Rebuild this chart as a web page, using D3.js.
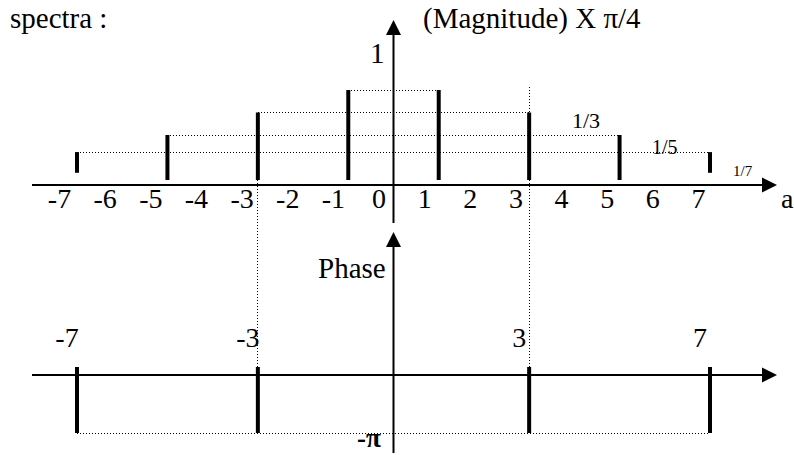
<!DOCTYPE html>
<html>
<head>
<meta charset="utf-8">
<script src="https://cdn.jsdelivr.net/npm/d3@7"></script>
<style>
    body { margin: 0; background: #fff; }
    svg { display: block; font-family: "Liberation Serif", "Times New Roman", serif; }
    .c-Spectra-dotted { stroke: #000; stroke-width: 1; stroke-dasharray: 1,2; fill: none; shape-rendering: crispEdges; }
    .c-Spectra-axis { stroke: #000; stroke-width: 2; }
    .c-Spectra-spike { stroke: #000; stroke-width: 4; }
</style>
</head>
<body>
<div id="chart"></div>
<script>
// harmonics and their drawn magnitude
const harmonics = [-7, -5, -3, -1, 1, 3, 5, 7]
const magnitudeTop = [0.31, 0.5, 0.75, 1, 1, 0.75, 0.5, 0.31]
const magnitudeBase = [0.08, 0, 0, 0, 0, 0, 0, 0.08]
const levelLabels = ['1/7', '1/5', '1/3', '1']

// phase spectrum
const phaseHarmonics = [-7, -3, 3, 7]
const phaseValues = [-Math.PI, -Math.PI, -Math.PI, -Math.PI]

const tickValues = [-7, -6, -5, -4, -3, -2, -1, 0, 1, 2, 3, 4, 5, 6, 7]

const width = 794
const height = 455
const fontSize = 29

const svg = d3.select('#chart').append('svg')
    .attr('width', width)
    .attr('height', height)

const x = d3.scaleLinear().domain([-7, 7]).range([77, 710])
const xLabel = d3.scaleLinear().domain([-7, 7]).range([59, 698])
const yMag = d3.scaleLinear().domain([0, 1]).range([180, 90])
const yPhase = d3.scaleLinear().domain([-Math.PI, 0]).range([433, 375])

const magAxisY = 185
const phaseAxisY = yPhase(0)
const axisX = x(0)

const mag = harmonics.map((h, i) => ({ h, top: magnitudeTop[i], base: magnitudeBase[i] }))
const phase = phaseHarmonics.map((h, i) => ({ h, value: phaseValues[i] }))

// axis line with a filled arrow head at (x2, y2)
function arrow(g, x1, y1, x2, y2) {
    const ang = Math.atan2(y2 - y1, x2 - x1)
    const len = 15, half = 7.5
    const bx = x2 - len * Math.cos(ang), by = y2 - len * Math.sin(ang)
    g.append('line').attr('class', 'c-Spectra-axis')
        .attr('x1', x1).attr('y1', y1).attr('x2', bx).attr('y2', by)
    g.append('path')
        .attr('d', `M${x2},${y2}L${bx - half * Math.sin(ang)},${by + half * Math.cos(ang)}L${bx + half * Math.sin(ang)},${by - half * Math.cos(ang)}Z`)
        .attr('fill', '#000')
}

// dotted guides
const guides = svg.append('g')
for (let i = 0; i < 4; i++) {
    const d = mag[i]
    guides.append('line').attr('class', 'c-Spectra-dotted')
        .attr('x1', x(d.h)).attr('x2', x(-d.h))
        .attr('y1', yMag(d.top)).attr('y2', yMag(d.top))
}
guides.append('line').attr('class', 'c-Spectra-dotted')
    .attr('x1', x(-7)).attr('x2', x(7))
    .attr('y1', yPhase(-Math.PI)).attr('y2', yPhase(-Math.PI))
guides.append('line').attr('class', 'c-Spectra-dotted')
    .attr('x1', x(-3)).attr('x2', x(-3))
    .attr('y1', yMag(0)).attr('y2', phaseAxisY - 8)
guides.append('line').attr('class', 'c-Spectra-dotted')
    .attr('x1', x(3)).attr('x2', x(3))
    .attr('y1', yMag(1.03)).attr('y2', phaseAxisY - 8)

// axes
const axes = svg.append('g')
arrow(axes, 32, magAxisY, 777, magAxisY)
arrow(axes, axisX, 223, axisX, 20)
arrow(axes, 32, phaseAxisY, 777, phaseAxisY)
arrow(axes, axisX, 453, axisX, 232)

// magnitude spikes
svg.append('g').selectAll('line')
    .data(mag)
    .enter()
        .append('line')
        .attr('class', 'c-Spectra-spike')
        .attr('x1', d => x(d.h)).attr('x2', d => x(d.h))
        .attr('y1', d => yMag(d.base)).attr('y2', d => yMag(d.top))

// phase spikes
svg.append('g').selectAll('line')
    .data(phase)
    .enter()
        .append('line')
        .attr('class', 'c-Spectra-spike')
        .attr('x1', d => x(d.h)).attr('x2', d => x(d.h))
        .attr('y1', phaseAxisY - 8).attr('y2', d => yPhase(d.value))

// tick labels of the frequency axis
const tickAxis = svg.append('g')
    .attr('transform', `translate(0, ${magAxisY})`)
    .call(d3.axisBottom(xLabel).tickValues(tickValues).tickSize(0).tickPadding(0)
        .tickFormat(d => d < 0 ? '-' + Math.abs(d) : String(d)))
tickAxis.select('.domain').remove()
tickAxis.attr('font-family', null).attr('font-size', null)
tickAxis.selectAll('text')
    .attr('dy', null)
    .attr('y', 23)
    .attr('font-size', 28)
    .attr('fill', '#000')

// phase harmonic labels
svg.append('g').selectAll('text')
    .data(phase)
    .enter()
        .append('text')
        .attr('x', d => x(d.h) - 10)
        .attr('y', phaseAxisY - 28)
        .attr('text-anchor', 'middle')
        .attr('font-size', 28)
        .text(d => d.h < 0 ? '-' + Math.abs(d.h) : d.h)

// texts
const texts = svg.append('g').attr('font-size', fontSize)
texts.append('text').attr('x', 10).attr('y', 28).text('spectra :')
texts.append('text').attr('x', 423).attr('y', 28).text('(Magnitude) X π/4')
texts.append('text').attr('x', axisX - 9).attr('y', 63).attr('text-anchor', 'end').text(levelLabels[3])
texts.append('text').attr('x', 781).attr('y', magAxisY + 23).attr('font-size', 28).text('a')
texts.append('text').attr('x', 318).attr('y', 278).text('Phase')
texts.append('text').attr('x', 357).attr('y', 447).attr('font-size', 27).attr('font-weight', 'bold').text('-π')

texts.append('text').attr('x', 572).attr('y', yMag(0.75) + 15).attr('font-size', 22).text(levelLabels[2])
texts.append('text').attr('x', 652).attr('y', yMag(0.5) + 19).attr('font-size', 20).text(levelLabels[1])
texts.append('text').attr('x', 733).attr('y', yMag(0.31) + 24).attr('font-size', 15).text(levelLabels[0])
</script>
</body>
</html>
